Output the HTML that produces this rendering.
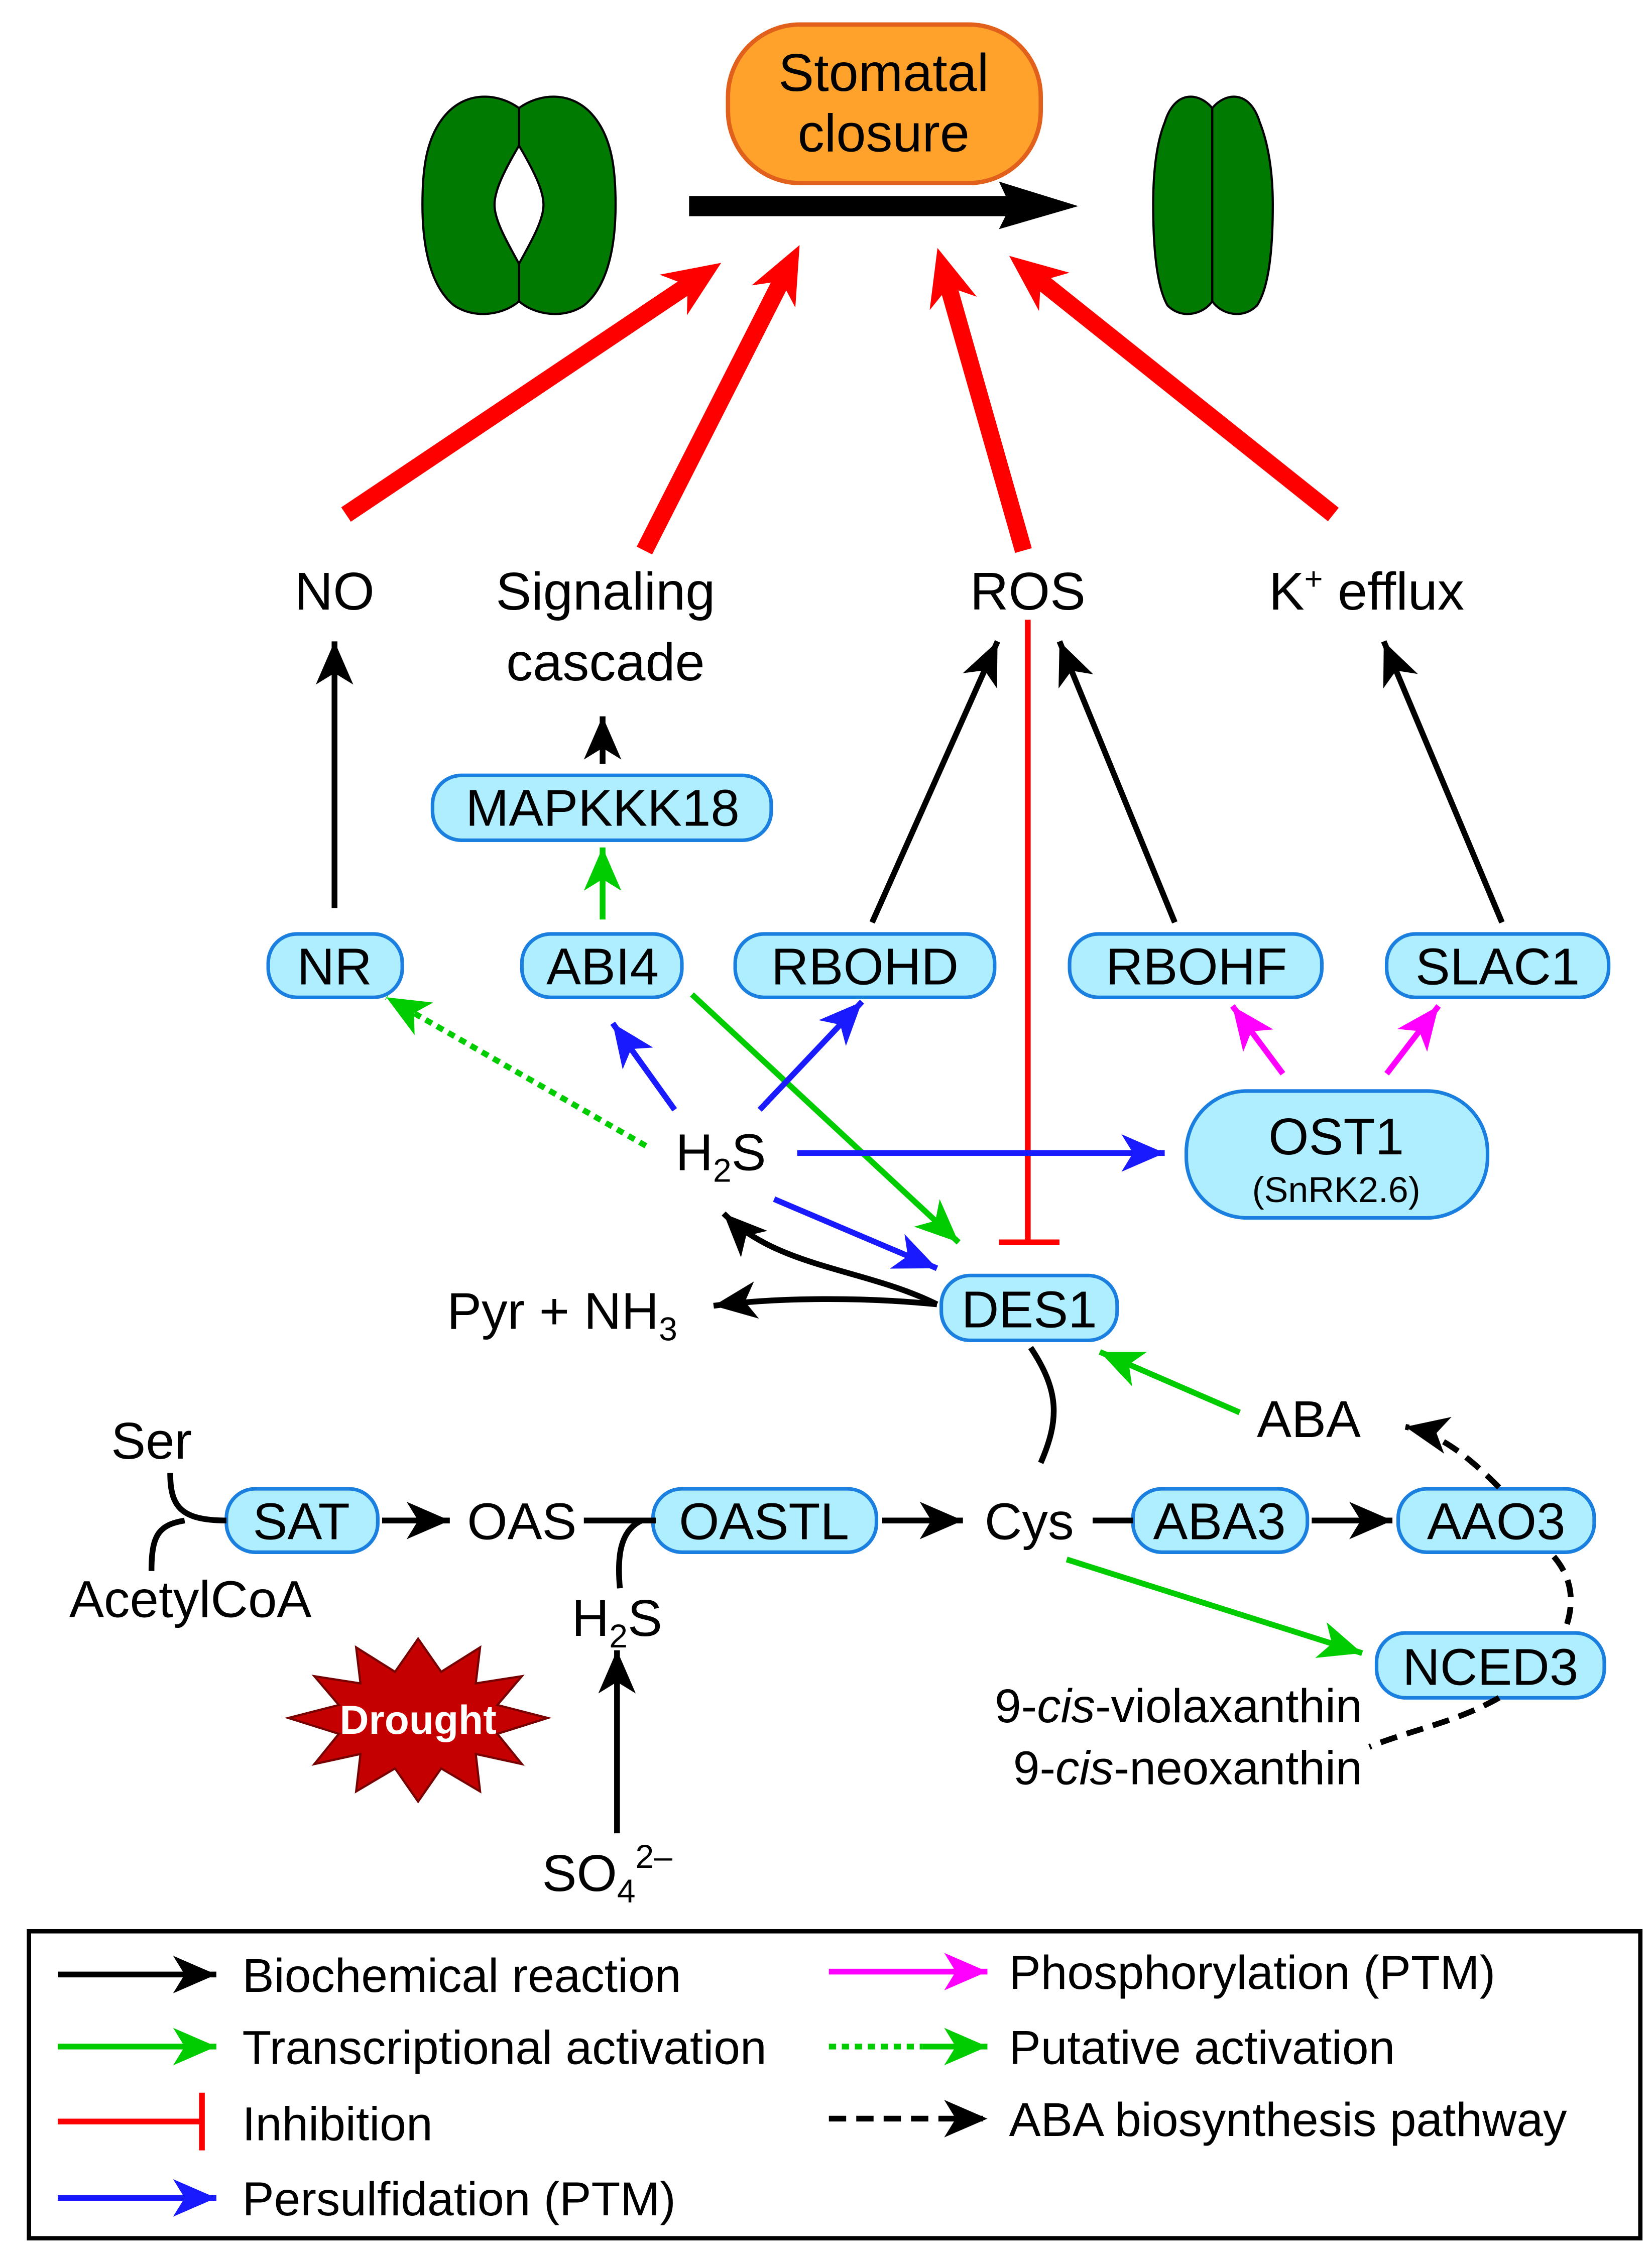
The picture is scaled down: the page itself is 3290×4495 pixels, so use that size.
<!DOCTYPE html>
<html><head><meta charset="utf-8"><style>
html,body{margin:0;padding:0;background:#fff}
svg{display:block}
text{font-family:"Liberation Sans",Arial,sans-serif;fill:#000}
</style></head><body>
<svg width="3290" height="4495" viewBox="0 0 1146 1566" xmlns="http://www.w3.org/2000/svg">
<defs>
<marker id="ak" markerUnits="userSpaceOnUse" markerWidth="32" markerHeight="30" viewBox="-30 -15 32 30" refX="0" refY="0" orient="auto"><path d="M0,0 L-30,-13 L-22,0 L-30,13 Z" fill="#000"/></marker>
<marker id="ag" markerUnits="userSpaceOnUse" markerWidth="32" markerHeight="30" viewBox="-30 -15 32 30" refX="0" refY="0" orient="auto"><path d="M0,0 L-30,-13 L-22,0 L-30,13 Z" fill="#00cc00"/></marker>
<marker id="ab" markerUnits="userSpaceOnUse" markerWidth="32" markerHeight="30" viewBox="-30 -15 32 30" refX="0" refY="0" orient="auto"><path d="M0,0 L-30,-13 L-22,0 L-30,13 Z" fill="#1a1aff"/></marker>
<marker id="am" markerUnits="userSpaceOnUse" markerWidth="32" markerHeight="30" viewBox="-30 -15 32 30" refX="0" refY="0" orient="auto"><path d="M0,0 L-30,-13 L-22,0 L-30,13 Z" fill="#ff00ff"/></marker>
<marker id="ar" markerUnits="userSpaceOnUse" markerWidth="44" markerHeight="38" viewBox="-14 -19 44 38" refX="0" refY="0" orient="auto"><path d="M28,0 L-12,-17 L0,0 L-12,17 Z" fill="#ff0000"/></marker>
</defs>

<!-- stomata -->
<g fill="#007a00" stroke="#000" stroke-width="1.5">
<path d="M360,75 C345,64 320,62 305,85 C295,100 293,120 293,142 C293,175 300,200 315,212 C330,222 350,218 360,209 L360,183 C350,165 343,152 343,142 C343,132 350,118 360,101 Z"/>
<path d="M360,75 C375,64 400,62 415,85 C425,100 427,120 427,142 C427,175 420,200 405,212 C390,222 370,218 360,209 L360,183 C370,165 377,152 377,142 C377,132 370,118 360,101 Z"/>
<path d="M841,75 C832,64 815,62 808,85 C802,100 800,120 800,142 C800,175 803,200 810,212 C820,222 835,218 841,209 Z"/>
<path d="M841,75 C850,64 867,62 874,85 C880,100 883,120 883,142 C883,175 880,200 872,212 C862,222 847,218 841,209 Z"/>
</g>

<rect x="505" y="17" width="217" height="110" rx="50" fill="#ffa22b" stroke="#e0601c" stroke-width="3"/>
<text x="613" y="63" font-size="37" text-anchor="middle">Stomatal</text>
<text x="613" y="105" font-size="37" text-anchor="middle">closure</text>
<rect x="478" y="136" width="224" height="14" fill="#000"/>
<polygon points="693,126 748,143 693,159 701,143" fill="#000"/>

<!-- red thick arrows -->
<g stroke="#ff0000" stroke-width="12" marker-end="url(#ar)">
<line x1="240" y1="357" x2="477" y2="198"/>
<line x1="447" y1="382" x2="542" y2="195"/>
<line x1="710" y1="382" x2="658" y2="199"/>
<line x1="925" y1="357" x2="722" y2="195"/>
</g>

<g font-size="37" text-anchor="middle">
<text x="232" y="423">NO</text>
<text x="420" y="423">Signaling</text>
<text x="420" y="472">cascade</text>
<text x="713" y="423">ROS</text>
<text x="948" y="423">K<tspan font-size="22" dy="-14">+</tspan><tspan dy="14"> efflux</tspan></text>
</g>

<!-- boxes -->
<g fill="#aeeeff" stroke="#1b7fe0" stroke-width="2.5">
<rect x="300" y="538" width="235" height="45" rx="20"/>
<rect x="186" y="648" width="93" height="44" rx="20"/>
<rect x="362" y="648" width="111" height="44" rx="20"/>
<rect x="510" y="648" width="180" height="44" rx="20"/>
<rect x="742" y="648" width="175" height="44" rx="20"/>
<rect x="962" y="648" width="154" height="44" rx="20"/>
<rect x="823" y="757" width="209" height="88" rx="42"/>
<rect x="653" y="885" width="122" height="45" rx="20"/>
<rect x="157" y="1033" width="105" height="44" rx="20"/>
<rect x="453" y="1033" width="155" height="44" rx="20"/>
<rect x="786" y="1033" width="121" height="44" rx="20"/>
<rect x="970" y="1033" width="136" height="44" rx="20"/>
<rect x="955" y="1133" width="158" height="45" rx="20"/>
</g>
<g font-size="36" text-anchor="middle">
<text x="418" y="573">MAPKKK18</text>
<text x="232" y="683">NR</text>
<text x="418" y="683">ABI4</text>
<text x="600" y="683">RBOHD</text>
<text x="830" y="683">RBOHF</text>
<text x="1039" y="683">SLAC1</text>
<text x="927" y="801">OST1</text>
<text x="927" y="834" font-size="25">(SnRK2.6)</text>
<text x="714" y="921">DES1</text>
<text x="209" y="1068">SAT</text>
<text x="530" y="1068">OASTL</text>
<text x="846" y="1068">ABA3</text>
<text x="1038" y="1068">AAO3</text>
<text x="1034" y="1169">NCED3</text>
</g>

<!-- text nodes -->
<g font-size="36">
<text x="500" y="812" text-anchor="middle">H<tspan font-size="23" dy="8">2</tspan><tspan dy="-8">S</tspan></text>
<text x="310" y="922">Pyr + NH<tspan font-size="23" dy="8">3</tspan></text>
<text x="908" y="997" text-anchor="middle">ABA</text>
<text x="105" y="1012" text-anchor="middle">Ser</text>
<text x="132" y="1122" text-anchor="middle">AcetylCoA</text>
<text x="362" y="1068" text-anchor="middle">OAS</text>
<text x="714" y="1068" text-anchor="middle">Cys</text>
<text x="428" y="1135" text-anchor="middle">H<tspan font-size="23" dy="8">2</tspan><tspan dy="-8">S</tspan></text>
<text x="376" y="1312">SO<tspan font-size="23" dy="8">4</tspan><tspan font-size="23" dy="-24">2–</tspan></text>
<text x="945" y="1195" text-anchor="end" font-size="33">9-<tspan font-style="italic">cis</tspan>-violaxanthin</text>
<text x="945" y="1238" text-anchor="end" font-size="33">9-<tspan font-style="italic">cis</tspan>-neoxanthin</text>
</g>

<!-- black thin arrows -->
<g stroke="#000" stroke-width="4" fill="none" marker-end="url(#ak)">
<line x1="232" y1="630" x2="232" y2="445"/>
<line x1="418" y1="530" x2="418" y2="497"/>
<line x1="605" y1="640" x2="692" y2="445"/>
<line x1="815" y1="640" x2="735" y2="445"/>
<line x1="1042" y1="640" x2="960" y2="445"/>
<path d="M650,905 C600,880 540,880 502,842"/>
<path d="M650,905 C600,900 540,900 495,906"/>
<line x1="265" y1="1055" x2="312" y2="1055"/>
<line x1="612" y1="1055" x2="668" y2="1055"/>
<line x1="910" y1="1055" x2="966" y2="1055"/>
<line x1="428" y1="1272" x2="428" y2="1145"/>
</g>
<g stroke="#000" stroke-width="4" fill="none">
<path d="M715,935 C735,965 735,985 722,1015"/>
<line x1="405" y1="1055" x2="455" y2="1055"/>
<path d="M430,1102 C428,1080 430,1062 445,1055"/>
<line x1="758" y1="1055" x2="786" y2="1055"/>
<path d="M118,1022 C118,1045 125,1055 157,1055"/>
<path d="M105,1090 C105,1065 110,1058 128,1055"/>
</g>
<!-- dashed black -->
<g stroke="#000" stroke-width="4" fill="none" stroke-dasharray="12,7">
<path d="M1040,1032 C1020,1012 1000,995 975,990" marker-end="url(#ak)"/>
<path d="M1078,1080 C1095,1100 1090,1120 1085,1133"/>
<path d="M1040,1178 C1010,1195 980,1200 950,1212"/>
</g>

<!-- red inhibition -->
<line x1="713" y1="430" x2="713" y2="862" stroke="#ff0000" stroke-width="4"/>
<line x1="693" y1="862" x2="735" y2="862" stroke="#ff0000" stroke-width="4"/>

<!-- green -->
<g stroke="#00cc00" stroke-width="4" fill="none" marker-end="url(#ag)">
<line x1="418" y1="638" x2="418" y2="588"/>
<line x1="480" y1="690" x2="665" y2="862"/>
<line x1="860" y1="980" x2="763" y2="938"/>
<line x1="740" y1="1082" x2="945" y2="1147"/>
<line x1="448" y1="795" x2="268" y2="692" stroke-dasharray="5,4"/>
</g>
<!-- blue -->
<g stroke="#1a1aff" stroke-width="4" fill="none" marker-end="url(#ab)">
<line x1="468" y1="770" x2="425" y2="710"/>
<line x1="527" y1="770" x2="598" y2="695"/>
<line x1="553" y1="800" x2="808" y2="800"/>
<line x1="537" y1="832" x2="650" y2="880"/>
</g>
<!-- magenta -->
<g stroke="#ff00ff" stroke-width="4" fill="none" marker-end="url(#am)">
<line x1="890" y1="745" x2="855" y2="698"/>
<line x1="962" y1="745" x2="998" y2="698"/>
</g>

<!-- Drought star -->
<polygon points="290,1137 306,1160 333,1143 330,1168 362,1163 345,1183 380,1192 345,1203 362,1224 330,1217 333,1243 306,1227 290,1250 274,1227 247,1243 250,1217 218,1224 235,1203 200,1192 235,1183 218,1163 250,1168 247,1143 274,1160" fill="#c40000" stroke="#700" stroke-width="1.5"/>
<text x="290" y="1203" font-size="28" font-weight="bold" text-anchor="middle" style="fill:#fff">Drought</text>

<!-- legend -->
<rect x="20" y="1340" width="1118" height="213" fill="#fff" stroke="#000" stroke-width="3"/>
<g stroke-width="4" fill="none">
<line x1="40" y1="1370" x2="150" y2="1370" stroke="#000" marker-end="url(#ak)"/>
<line x1="40" y1="1420" x2="150" y2="1420" stroke="#00cc00" marker-end="url(#ag)"/>
<line x1="40" y1="1472" x2="140" y2="1472" stroke="#ff0000"/>
<line x1="140" y1="1452" x2="140" y2="1492" stroke="#ff0000"/>
<line x1="40" y1="1525" x2="150" y2="1525" stroke="#1a1aff" marker-end="url(#ab)"/>
<line x1="575" y1="1368" x2="685" y2="1368" stroke="#ff00ff" marker-end="url(#am)"/>
<line x1="575" y1="1420" x2="640" y2="1420" stroke="#00cc00" stroke-dasharray="5,4"/>
<line x1="640" y1="1420" x2="685" y2="1420" stroke="#00cc00" marker-end="url(#ag)"/>
<line x1="575" y1="1470" x2="685" y2="1470" stroke="#000" stroke-dasharray="12,7" marker-end="url(#ak)"/>
</g>
<g font-size="33">
<text x="168" y="1382">Biochemical reaction</text>
<text x="168" y="1432">Transcriptional activation</text>
<text x="168" y="1485">Inhibition</text>
<text x="168" y="1537">Persulfidation (PTM)</text>
<text x="700" y="1380">Phosphorylation (PTM)</text>
<text x="700" y="1432">Putative activation</text>
<text x="700" y="1482">ABA biosynthesis pathway</text>
</g>
</svg>
</body></html>
